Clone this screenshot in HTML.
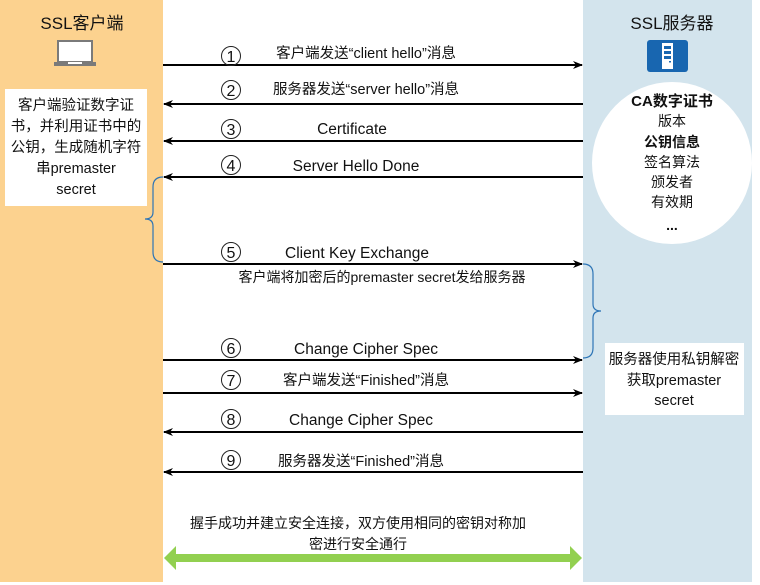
<!DOCTYPE html>
<html><head><meta charset="utf-8"><style>
html,body{margin:0;padding:0;background:#fff;width:760px;height:585px;overflow:hidden}
text{font-family:"Liberation Sans","Noto Sans CJK SC",sans-serif;fill:#111}
</style></head><body>
<svg width="760" height="585" viewBox="0 0 760 585" xmlns="http://www.w3.org/2000/svg">
<defs>
<marker id="a" markerWidth="10" markerHeight="8" refX="9" refY="4" orient="auto" markerUnits="userSpaceOnUse">
<path d="M0,0 L10,4 L0,8 L3,4 Z" fill="#000"/></marker>
</defs>
<rect x="0" y="0" width="163" height="582" fill="#FCD28F"/>
<rect x="583" y="0" width="169" height="582" fill="#D3E4ED"/>
<text x="82" y="29" font-size="17" text-anchor="middle">SSL客户端</text>
<rect x="57" y="40" width="36" height="22" fill="#7a7a7a"/>
<rect x="59" y="42" width="32" height="19" fill="#fff"/>
<rect x="54" y="62" width="42" height="4" fill="#7a7a7a"/>
<rect x="68" y="62" width="14" height="2" fill="#fff"/>
<text x="672" y="29" font-size="17" text-anchor="middle">SSL服务器</text>
<rect x="647" y="40" width="41" height="32" rx="3" fill="#1866B0"/>
<rect x="662" y="43" width="11" height="26" fill="#fff"/>
<rect x="664" y="46" width="7" height="3" fill="#1866B0"/>
<rect x="664" y="51" width="7" height="3" fill="#1866B0"/>
<rect x="664" y="56" width="7" height="3" fill="#1866B0"/>
<rect x="669" y="61" width="2" height="1.5" fill="#1866B0"/>
<ellipse cx="672" cy="163" rx="80" ry="81" fill="#fff"/>
<g font-size="14" text-anchor="middle">
<text x="672" y="106" font-weight="bold" font-size="15">CA数字证书</text>
<text x="672" y="126">版本</text>
<text x="672" y="147" font-weight="bold">公钥信息</text>
<text x="672" y="167">签名算法</text>
<text x="672" y="187">颁发者</text>
<text x="672" y="207">有效期</text>
<text x="672" y="230" font-weight="bold">...</text>
</g>
<rect x="5" y="89" width="142" height="117" fill="#fff"/>
<g font-size="14.5" text-anchor="middle">
<text x="76" y="110">客户端验证数字证</text>
<text x="76" y="131">书，并利用证书中的</text>
<text x="76" y="152">公钥，生成随机字符</text>
<text x="76" y="173">串premaster</text>
<text x="76" y="194">secret</text>
</g>
<rect x="605" y="343" width="139" height="72" fill="#fff"/>
<g font-size="14.5" text-anchor="middle">
<text x="674" y="364">服务器使用私钥解密</text>
<text x="674" y="385">获取premaster</text>
<text x="674" y="405">secret</text>
</g>
<path d="M163,177 Q153,177 153,187 L153,212 Q153,219 145,219 Q153,219 153,226 L153,252 Q153,262 163,262" fill="none" stroke="#2E75B6" stroke-width="1.2"/>
<path d="M583,264 Q593,264 593,274 L593,304 Q593,311 601,311 Q593,311 593,318 L593,348 Q593,358 583,358" fill="none" stroke="#2E75B6" stroke-width="1.2"/>
<g stroke="#000" stroke-width="2" marker-end="url(#a)">
<line x1="163" y1="65" x2="582" y2="65"/>
<line x1="583" y1="104" x2="164" y2="104"/>
<line x1="583" y1="141" x2="164" y2="141"/>
<line x1="583" y1="177" x2="164" y2="177"/>
<line x1="163" y1="264" x2="582" y2="264"/>
<line x1="163" y1="360" x2="582" y2="360"/>
<line x1="163" y1="393" x2="582" y2="393"/>
<line x1="583" y1="432" x2="164" y2="432"/>
<line x1="583" y1="472" x2="164" y2="472"/>
</g>
<g fill="none" stroke="#222" stroke-width="1">
<circle cx="231" cy="56" r="9.5"/><circle cx="231" cy="90" r="9.5"/><circle cx="231" cy="129" r="9.5"/>
<circle cx="231" cy="165" r="9.5"/><circle cx="231" cy="252" r="9.5"/><circle cx="231" cy="348" r="9.5"/>
<circle cx="231" cy="380" r="9.5"/><circle cx="231" cy="419" r="9.5"/><circle cx="231" cy="460" r="9.5"/>
</g>
<g font-size="16" text-anchor="middle">
<text x="231" y="62">1</text><text x="231" y="96">2</text><text x="231" y="135">3</text>
<text x="231" y="171">4</text><text x="231" y="258">5</text><text x="231" y="354">6</text>
<text x="231" y="386">7</text><text x="231" y="425">8</text><text x="231" y="466">9</text>
</g>
<g font-size="15.5" text-anchor="middle">
<text x="366" y="58" font-size="14.5">客户端发送“client hello”消息</text>
<text x="366" y="94" font-size="14.5">服务器发送“server hello”消息</text>
<text x="352" y="134">Certificate</text>
<text x="356" y="171">Server Hello Done</text>
<text x="357" y="258">Client Key Exchange</text>
<text x="382" y="282" font-size="14">客户端将加密后的premaster secret发给服务器</text>
<text x="366" y="354">Change Cipher Spec</text>
<text x="366" y="385" font-size="14.5">客户端发送“Finished”消息</text>
<text x="361" y="425">Change Cipher Spec</text>
<text x="361" y="466" font-size="14.5">服务器发送“Finished”消息</text>
<text x="358" y="528" font-size="14">握手成功并建立安全连接，双方使用相同的密钥对称加</text>
<text x="358" y="549" font-size="14">密进行安全通行</text>
</g>
<path d="M164,558 L176,546 L176,554 L570,554 L570,546 L582,558 L570,570 L570,562 L176,562 L176,570 Z" fill="#92D050"/>
</svg>
</body></html>
